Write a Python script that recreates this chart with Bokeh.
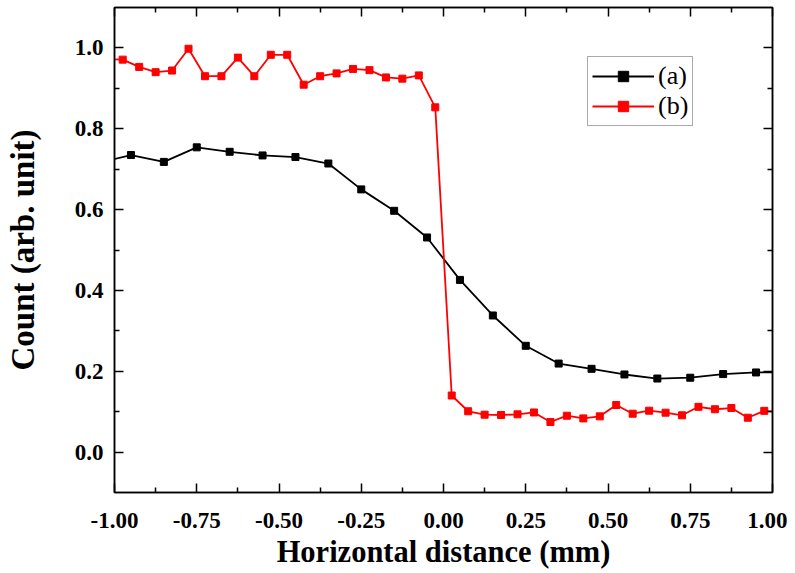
from bokeh.plotting import figure
from bokeh.models import (LinearAxis, FixedTicker, PrintfTickFormatter, Range1d, Legend,
                          LegendItem, CustomLabelingPolicy)
from bokeh.embed import file_html
from bokeh.resources import INLINE

# ---- data ----
x_a = [-1.05, -0.95, -0.85, -0.75, -0.65, -0.55, -0.45, -0.35, -0.25, -0.15, -0.05,
       0.05, 0.15, 0.25, 0.35, 0.45, 0.55, 0.65, 0.75, 0.85, 0.95, 1.05]
y_a = [0.715, 0.735, 0.718, 0.754, 0.743, 0.734, 0.730, 0.714, 0.650, 0.597, 0.531,
       0.426, 0.338, 0.263, 0.219, 0.206, 0.192, 0.182, 0.184, 0.193, 0.197, 0.198]

x_b = [-1.025, -0.975, -0.925, -0.875, -0.825, -0.775, -0.725, -0.675, -0.625, -0.575, -0.525,
       -0.475, -0.425, -0.375, -0.325, -0.275, -0.225, -0.175, -0.125, -0.075, -0.025,
       0.025, 0.075, 0.125, 0.175, 0.225, 0.275, 0.325, 0.375, 0.425, 0.475, 0.525,
       0.575, 0.625, 0.675, 0.725, 0.775, 0.825, 0.875, 0.925, 0.975, 1.025]
y_b = [0.972, 0.971, 0.953, 0.940, 0.944, 0.998, 0.930, 0.930, 0.976, 0.930, 0.983,
       0.983, 0.909, 0.930, 0.937, 0.948, 0.945, 0.927, 0.924, 0.932, 0.853,
       0.140, 0.101, 0.0925, 0.0917, 0.0934, 0.098, 0.0744, 0.090, 0.0834, 0.0884, 0.1165,
       0.095, 0.1024, 0.0975, 0.091, 0.112, 0.106, 0.109, 0.085, 0.102, 0.098]

x_major = [-1.0, -0.75, -0.5, -0.25, 0.0, 0.25, 0.5, 0.75, 1.0]
x_minor = [-0.875, -0.625, -0.375, -0.125, 0.125, 0.375, 0.625, 0.875]
y_major = [0.0, 0.2, 0.4, 0.6, 0.8, 1.0]
y_minor = [0.1, 0.3, 0.5, 0.7, 0.9]

names = ["(a)", "(b)"]
colors = ["black", "#ff0000"]

FONT = "Liberation Serif"

p = figure(width=787, height=572, output_backend="svg", toolbar_location=None,
           x_range=Range1d(-1.0, 1.0), y_range=Range1d(-0.1, 1.1),
           min_border_left=114, min_border_right=15, min_border_top=7, min_border_bottom=80,
           x_axis_label="Horizontal distance (mm)", y_axis_label="Count (arb. unit)")
p.grid.visible = False
p.outline_line_color = "black"
p.outline_line_width = 1.5
p.background_fill_color = "white"
p.border_fill_color = "white"

la = p.line(x_a, y_a, line_color=colors[0], line_width=1.8)
sa = p.scatter(x_a, y_a, marker="square", size=7, fill_color=colors[0], line_color=colors[0])
lb = p.line(x_b, y_b, line_color=colors[1], line_width=1.8)
sb = p.scatter(x_b, y_b, marker="square", size=7, fill_color=colors[1], line_color=colors[1])

xt = FixedTicker(ticks=x_major, minor_ticks=x_minor)
yt = FixedTicker(ticks=y_major, minor_ticks=y_minor)

no_labels = CustomLabelingPolicy(code="""
for (const i of indices) {
    indices.unset(i)
}
return indices
""")

def style_axis(ax, ticker, fmt, labels=True):
    ax.ticker = ticker
    ax.formatter = PrintfTickFormatter(format=fmt)
    ax.axis_line_color = "black"
    ax.axis_line_width = 1.5
    ax.major_tick_line_color = "black"
    ax.major_tick_line_width = 1.5
    ax.minor_tick_line_color = "black"
    ax.minor_tick_line_width = 1.5
    ax.major_tick_in = 9
    ax.major_tick_out = 0
    ax.minor_tick_in = 5
    ax.minor_tick_out = 0
    ax.major_label_text_font = FONT
    ax.major_label_text_font_style = "bold"
    ax.major_label_text_font_size = "23px"
    ax.major_label_text_color = "black"
    ax.axis_label_text_font = FONT
    ax.axis_label_text_font_style = "bold"
    ax.axis_label_text_color = "black"
    if not labels:
        ax.major_label_policy = no_labels
        ax.major_label_text_font_size = "1px"
        ax.major_label_standoff = 0
        ax.axis_label = None

xb = p.xaxis[0]
style_axis(xb, xt, "%.2f")
xb.major_label_standoff = 20
xb.axis_label_standoff = 4
xb.axis_label_text_font_size = "30.5px"

yl = p.yaxis[0]
style_axis(yl, yt, "%.1f")
yl.major_label_standoff = 11
yl.axis_label_standoff = 31
yl.axis_label_text_font_size = "33px"

top = LinearAxis()
style_axis(top, xt, "%.2f", labels=False)
p.add_layout(top, "above")
right = LinearAxis()
style_axis(right, yt, "%.1f", labels=False)
p.add_layout(right, "right")

legend = Legend(items=[LegendItem(label=names[0], renderers=[la, sa]),
                       LegendItem(label=names[1], renderers=[lb, sb])],
                location=(473, 366))
legend.label_text_font = FONT
legend.label_text_font_size = "26px"
legend.label_text_color = "black"
legend.glyph_width = 62
legend.glyph_height = 26
legend.label_standoff = 4
legend.padding = 4
legend.spacing = 0
legend.margin = 0
legend.border_line_color = "#555555"
legend.border_line_width = 1.2
legend.background_fill_alpha = 1.0
p.add_layout(legend, "center")

open("out.html", "w").write(file_html(p, INLINE))
